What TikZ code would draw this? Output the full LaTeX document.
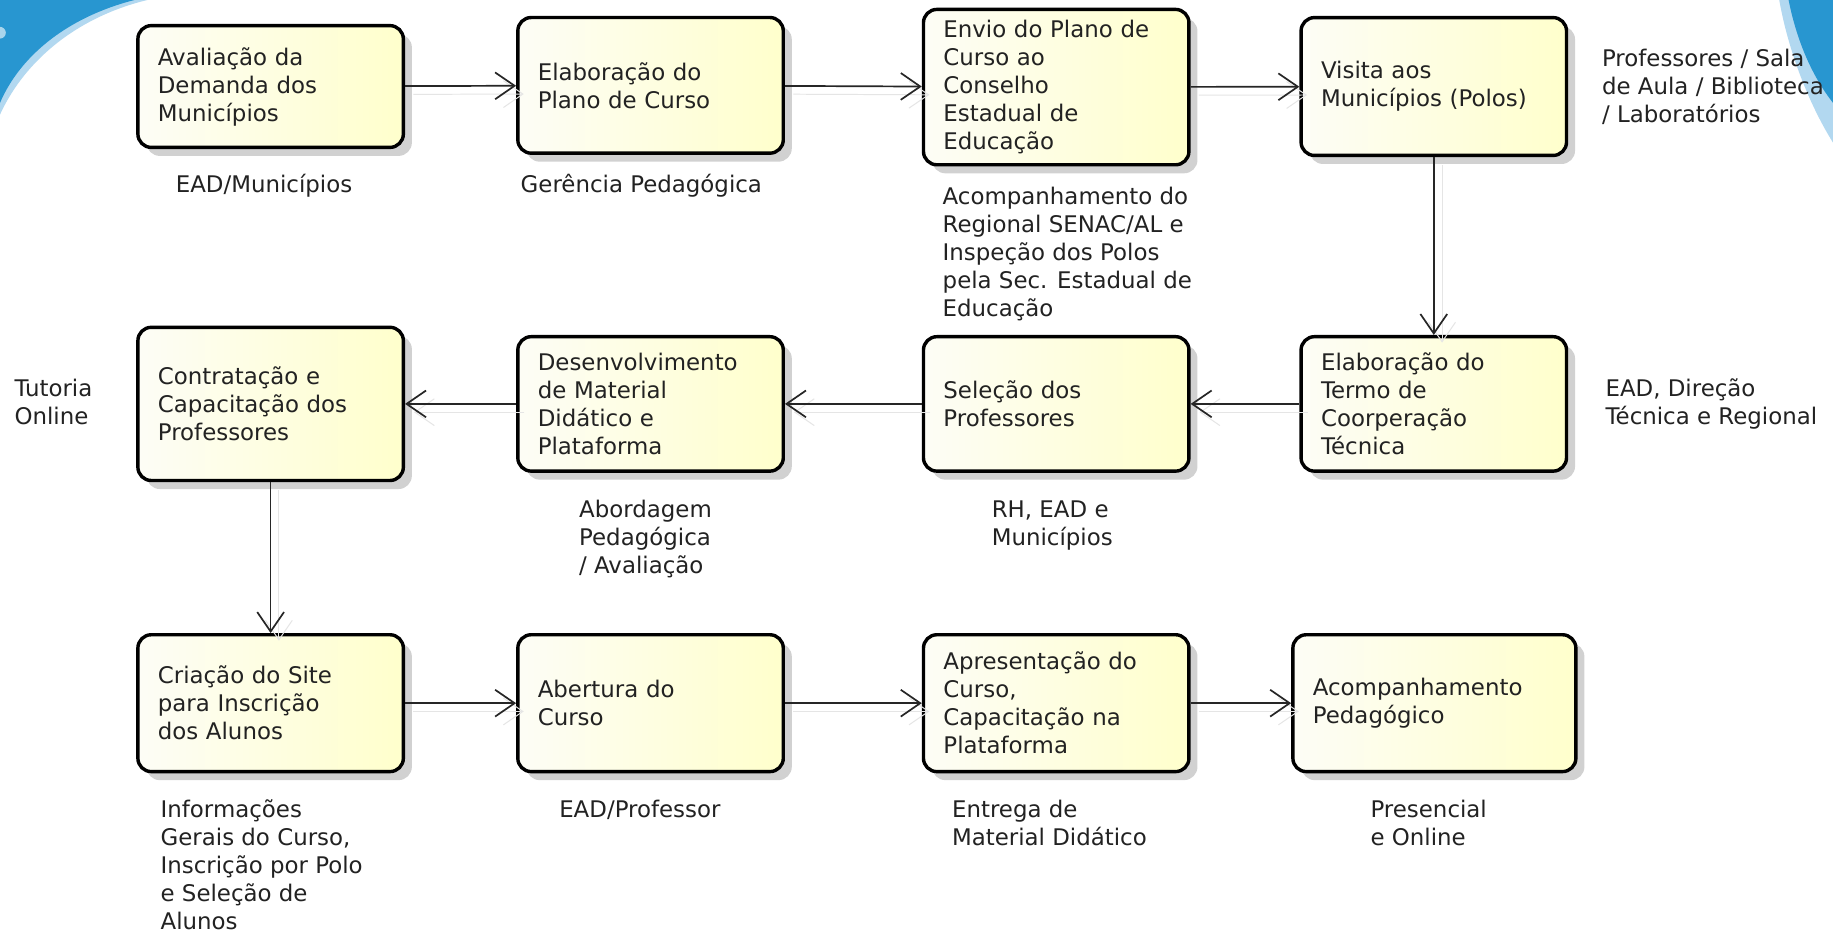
\documentclass[tikz,border=0pt]{standalone}
\usepackage{fontspec}
\setmainfont{DejaVu Sans}
\usepackage{xcolor}
\definecolor{caixa_a}{RGB}{253,253,246}
\definecolor{caixa_b}{RGB}{255,255,204}
\definecolor{azul_fundo}{RGB}{40,150,208}
\definecolor{azul_claro}{RGB}{178,216,240}
\definecolor{texto}{RGB}{34,34,34}
\usetikzlibrary{arrows.meta, shadows}

\begin{document}
\begin{tikzpicture}[x=0.48pt,y=-0.48pt,
    etapa/.style={draw=black, line width=1.4pt, rounded corners=5.5pt,
        left color=caixa_a, right color=caixa_b,
        drop shadow={shadow xshift=3.5pt, shadow yshift=-3.5pt, fill=black, opacity=0.18},
        text width=92.6pt, inner xsep=8.2pt, inner ysep=0pt, align=left,
        font=\fontsize{9.4pt}{11.5pt}\selectfont, text=texto},
    nota/.style={anchor=base west, align=left, inner sep=0pt,
        font=\fontsize{9.4pt}{11.5pt}\selectfont, text=texto},
    fluxo/.style={draw=black!85, line width=0.7pt, -{Straight Barb[length=8pt,width=11pt]},
        preaction={draw=black!10, transform canvas={shift={(3.4pt,-3.4pt)}}}}]
    \useasboundingbox (0,0) rectangle (1568,797);
    \fill[white] (0,0) rectangle (1568,797);
    %fundo azul
    \fill[azul_claro] (0,0) -- (126,0) .. controls (68,14) and (22,50) .. (0,98) -- cycle;
    \fill[azul_fundo] (0,0) -- (115,0) .. controls (60,14) and (18,46) .. (0,88) -- cycle;
    \fill[white, opacity=0.6] (0,28) circle (5);
    \fill[azul_claro] (1522,0) .. controls (1530,45) and (1548,90) .. (1568,122) -- (1568,0) -- cycle;
    \fill[azul_fundo] (1530,0) .. controls (1537,35) and (1550,65) .. (1568,88) -- (1568,0) -- cycle;
    %linha 1
    \node[etapa, minimum height=50pt] (avaliacao) at (231.5,74) {Avaliação da\\Demanda dos\\Municípios};
    \node[etapa, minimum height=55.7pt] (plano) at (556.5,73) {Elaboração do\\Plano de Curso};
    \node[etapa, minimum height=63.8pt] (envio) at (903.5,74.5) {Envio do Plano de\\Curso ao\\Conselho\\Estadual de\\Educação};
    \node[etapa, minimum height=56.6pt] (visita) at (1226.5,74) {Visita aos\\Municípios (Polos)};
    %linha 2
    \node[etapa, minimum height=62.9pt] (contratacao) at (231.5,345.5) {Contratação e\\Capacitação dos\\Professores};
    \node[etapa, minimum height=55.2pt] (material) at (556.5,345.5) {Desenvolvimento\\de Material\\Didático e\\Plataforma};
    \node[etapa, minimum height=55.2pt] (selecao) at (903.5,345.5) {Seleção dos\\Professores};
    \node[etapa, minimum height=55.2pt] (termo) at (1226.5,345.5) {Elaboração do\\Termo de\\Coorperação\\Técnica};
    %linha 3
    \node[etapa, minimum height=56.2pt] (site) at (231.5,601.5) {Criação do Site\\para Inscrição\\dos Alunos};
    \node[etapa, minimum height=56.2pt] (abertura) at (556.5,601.5) {Abertura do\\Curso};
    \node[etapa, minimum height=56.2pt] (apresentacao) at (903.5,601.5) {Apresentação do\\Curso,\\Capacitação na\\Plataforma};
    \node[etapa, minimum height=56.2pt, text width=99.8pt] (acompanhamento) at (1227,601.5) {Acompanhamento\\Pedagógico};
    %responsaveis (base = ultima linha)
    \node[nota] (n_avaliacao) at (150,165) {EAD/Municípios};
    \node[nota] (n_plano) at (445,165) {Gerência Pedagógica};
    \node[nota] (n_envio) at (806,271) {Acompanhamento do\\Regional SENAC/AL e\\Inspeção dos Polos\\pela Sec. Estadual de\\Educação};
    \node[nota] (n_visita) at (1370,105) {Professores / Sala\\de Aula / Biblioteca\\/ Laboratórios};
    \node[nota] (n_contratacao) at (12,363) {Tutoria\\Online};
    \node[nota] (n_material) at (495,491) {Abordagem\\Pedagógica\\/ Avaliação};
    \node[nota] (n_selecao) at (848,467) {RH, EAD e\\Municípios};
    \node[nota] (n_termo) at (1373,363) {EAD, Direção\\Técnica e Regional};
    \node[nota] (n_site) at (137,795) {Informações\\Gerais do Curso,\\Inscrição por Polo\\e Seleção de\\Alunos};
    \node[nota] (n_abertura) at (478,699) {EAD/Professor};
    \node[nota] (n_apresentacao) at (814,723) {Entrega de\\Material Didático};
    \node[nota] (n_acompanhamento) at (1172,723) {Presencial\\e Online};
    %setas
    \draw[fluxo] (avaliacao) -- (plano);
    \draw[fluxo] (plano) -- (envio);
    \draw[fluxo] (envio) -- (visita);
    \draw[fluxo] (visita) -- (termo);
    \draw[fluxo] (termo) -- (selecao);
    \draw[fluxo] (selecao) -- (material);
    \draw[fluxo] (material) -- (contratacao);
    \draw[fluxo] (contratacao) -- (site);
    \draw[fluxo] (site) -- (abertura);
    \draw[fluxo] (abertura) -- (apresentacao);
    \draw[fluxo] (apresentacao) -- (acompanhamento);
\end{tikzpicture}
\end{document}
